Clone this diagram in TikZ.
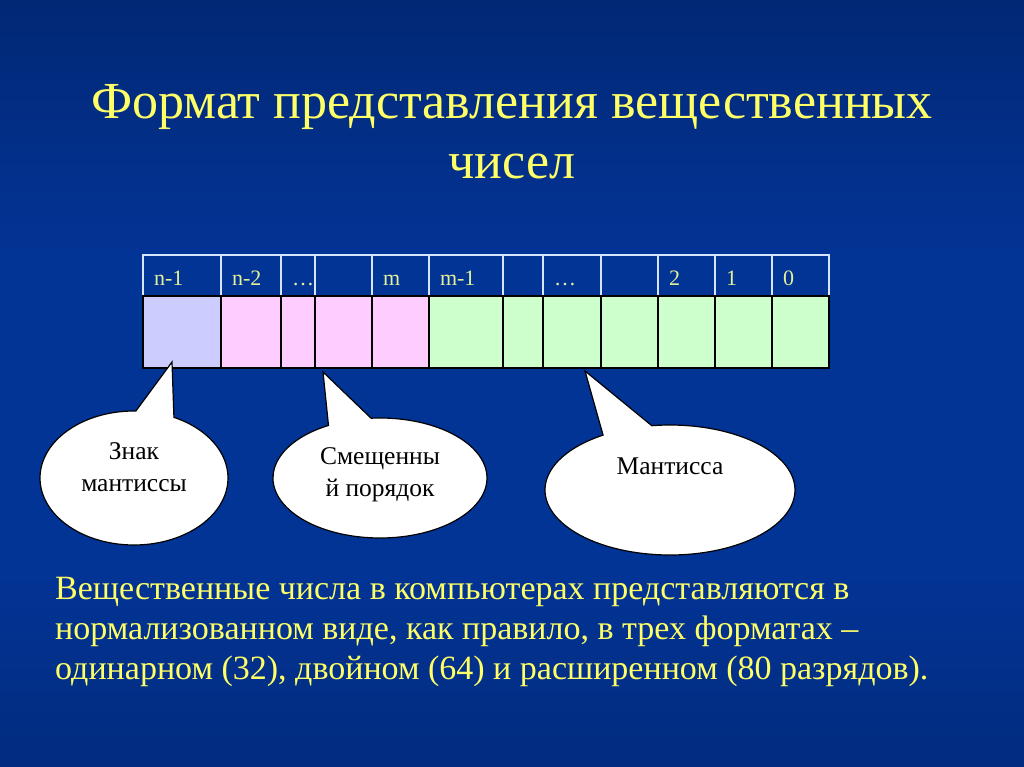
\documentclass[tikz,border=0pt]{standalone}
\usepackage{fontspec}
\setmainfont{Liberation Serif}
\usetikzlibrary{shapes.callouts}

\definecolor{bgtop}{RGB}{0,22,68}
\definecolor{bgmid}{RGB}{2,52,150}
\definecolor{bgbot}{RGB}{0,26,80}
\definecolor{titleyellow}{RGB}{255,255,102}
\definecolor{headtext}{RGB}{228,240,150}
\definecolor{gridline}{RGB}{215,228,255}
\definecolor{signcol}{RGB}{204,204,255}
\definecolor{expcol}{RGB}{255,204,255}
\definecolor{mantcol}{RGB}{204,255,204}
\pgfdeclareverticalshading{slidebg}{100bp}{color(0bp)=(bgbot); color(38bp)=(bgmid);
  color(58bp)=(bgmid); color(100bp)=(bgtop)}
\newcommand{\balloontext}[2]{\raisebox{#1}[0pt][0pt]{\begin{tabular}{@{}c@{}}#2\end{tabular}}}

\begin{document}
\begin{tikzpicture}
[x=1pt,y=-1pt,
 head/.style={rectangle,draw=gridline,line width=1.2pt,inner ysep=0pt,inner xsep=11pt,
              minimum height=41pt,text width=#1-22pt,align=left,text=headtext,
              text height=19pt,text depth=0pt,font=\fontsize{22}{26}\selectfont},
 bit/.style={rectangle,draw=black,line width=1.5pt,inner sep=0pt,minimum height=72pt,minimum width=#1},
 balloon/.style={ellipse callout,draw=black,line width=1.2pt,fill=white,inner sep=0pt,
                 callout pointer arc=24,font=\fontsize{25.5}{32}\selectfont}]
\shade[shading=slidebg] (0,0) rectangle (1024,767);
% title
\node[align=center,text=titleyellow,font=\fontsize{52}{60}\selectfont,anchor=north] (title) at (512,81)
  {Формат представления вещественных\\чисел};
% bit numbers
\node[head=78pt] (h1)  at (182,275.5)   {n-1};
\node[head=60pt] (h2)  at (251,275.5)   {n-2};
\node[head=34pt] (h3)  at (298,275.5)   {…};
\node[head=57pt] (h4)  at (343.5,275.5) {};
\node[head=57pt] (h5)  at (400.5,275.5) {m};
\node[head=74pt] (h6)  at (466,275.5)   {m-1};
\node[head=40pt] (h7)  at (523,275.5)   {};
\node[head=58pt] (h8)  at (572,275.5)   {…};
\node[head=57pt] (h9)  at (629.5,275.5) {};
\node[head=57pt] (h10) at (686.5,275.5) {2};
\node[head=57pt] (h11) at (743.5,275.5) {1};
\node[head=57pt] (h12) at (800.5,275.5) {0};
% bits
\node[bit=78pt,fill=signcol] (b1)  at (182,332)   {};
\node[bit=60pt,fill=expcol]  (b2)  at (251,332)   {};
\node[bit=34pt,fill=expcol]  (b3)  at (298,332)   {};
\node[bit=57pt,fill=expcol]  (b4)  at (343.5,332) {};
\node[bit=57pt,fill=expcol]  (b5)  at (400.5,332) {};
\node[bit=74pt,fill=mantcol] (b6)  at (466,332)   {};
\node[bit=40pt,fill=mantcol] (b7)  at (523,332)   {};
\node[bit=58pt,fill=mantcol] (b8)  at (572,332)   {};
\node[bit=57pt,fill=mantcol] (b9)  at (629.5,332) {};
\node[bit=57pt,fill=mantcol] (b10) at (686.5,332) {};
\node[bit=57pt,fill=mantcol] (b11) at (743.5,332) {};
\node[bit=57pt,fill=mantcol] (b12) at (800.5,332) {};
% callouts
\coordinate (tip1) at (172,362);
\coordinate (tip2) at (323,372);
\coordinate (tip3) at (585,371);
\node[balloon,minimum width=188pt,minimum height=134pt,callout absolute pointer=(tip1)] (sign)
  at (134,478) {\balloontext{3pt}{Знак\\мантиссы}};
\node[balloon,minimum width=214pt,minimum height=120pt,callout absolute pointer=(tip2)] (expo)
  at (380,478) {\balloontext{-2pt}{Смещенны\\й порядок}};
\node[balloon,minimum width=250pt,minimum height=130pt,callout absolute pointer=(tip3)] (mant)
  at (670,490) {\balloontext{16pt}{Мантисса}};
% text
\node[align=left,text=titleyellow,font=\fontsize{34}{40}\selectfont,anchor=north west,inner sep=0pt] (note)
  at (55,577) {Вещественные числа в компьютерах представляются в\\
               нормализованном виде, как правило, в трех форматах –\\
               одинарном (32), двойном (64) и расширенном (80 разрядов).};
\end{tikzpicture}
\end{document}
